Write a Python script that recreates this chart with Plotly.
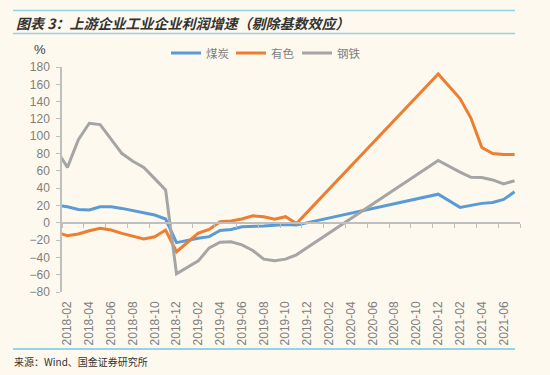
import plotly.graph_objects as go

months = ([f"2018-{m:02d}" for m in range(1, 13)] + [f"2019-{m:02d}" for m in range(1, 13)]
          + [f"2020-{m:02d}" for m in range(1, 13)] + [f"2021-{m:02d}" for m in range(1, 8)])

coal = [20, 18.5, 15.4, 14.7, 18.5, 18.5, 16.6, 13.9, 10.8, 8.9, 4.3, -23,
        None, -18, -16, -9, -7.7, -4.6, -4.5, -3.8, -2.8, -2, -2.7, None,
        None, None, None, None, None, None, None, None, None, None, None, 33,
        None, 17.8, 20, 22.4, 23.5, 27, 35.8]
nonferrous = [-11, -15, -13, -9.2, -6.5, -8.4, -12.3, -15.3, -18.8, -16.2, -8.4, -33.5,
              None, -12, -7.7, 1.2, 2, 4.3, 8, 7, 4, 7, -0.8, None,
              None, None, None, None, None, None, None, None, None, None, None, 172,
              None, 143.6, 121, 87, 80, 79, 79]
steel = [84, 64, 96, 115, 113.5, 97, 80, 71, 64, 51, 38, -59,
         None, -44, -29, -22.5, -22, -25.5, -32, -42, -44, -42, -37, None,
         None, None, None, None, None, None, None, None, None, None, None, 72,
         None, 58.5, 52.5, 52.3, 49.5, 45, 48.5]

series = [("煤炭", coal, "#5B9BD5"), ("有色", nonferrous, "#ED7D31"), ("钢铁", steel, "#A5A5A5")]

# geometry (pixels)
W, H = 550, 375
L, R, T, B = 62, 30, 67, 83
PW, PH = W - L - R, H - T - B


def px(x):
    return (x - L) / PW


def py(y):
    return (H - B - y) / PH


xi = list(range(len(months)))
tick_idx = [i for i, m in enumerate(months) if m >= "2018-02" and int(m[5:]) % 2 == 0]

legend_ids = ["legend", "legend2", "legend3"]
legend_x = [166, 231, 297]

fig = go.Figure()
for (name, vals, col), lid in zip(series, legend_ids):
    fig.add_trace(go.Scatter(x=xi, y=vals, name=name, mode="lines", connectgaps=True,
                             line=dict(color=col, width=3), legend=lid))
# helper trace for the axis at y=0
fig.add_trace(go.Scatter(x=[None], y=[None], xaxis="x2", showlegend=False, hoverinfo="skip"))

axis_col = "#BFBFBF"
tick_font = dict(family="Liberation Sans, Arial, sans-serif", size=12, color="#7F7F7F")
xr = [0.5, len(months) - 0.5]
yr = [-80, 180]

legend_style = dict(orientation="h", xanchor="left", y=py(53), yanchor="middle",
                    font=dict(family="Noto Sans CJK SC", size=11.5, color="#7F7F7F"),
                    bgcolor="rgba(0,0,0,0)", itemwidth=30)

fig.update_layout(
    width=W, height=H,
    margin=dict(l=L, r=R, t=T, b=B, autoexpand=False),
    paper_bgcolor="#FDF9EE", plot_bgcolor="#FDF9EE",
    showlegend=True,
    legend=dict(x=px(legend_x[0]), **legend_style),
    legend2=dict(x=px(legend_x[1]), **legend_style),
    legend3=dict(x=px(legend_x[2]), **legend_style),
    xaxis=dict(range=xr, tickmode="array", tickvals=tick_idx,
               ticktext=[months[i] for i in tick_idx], tickangle=-90,
               ticks="", showline=False, showgrid=False, zeroline=False, automargin=False,
               tickfont=tick_font, ticklabelstandoff=6),
    xaxis2=dict(range=xr, overlaying="x", anchor="free", position=(0 - yr[0]) / (yr[1] - yr[0]),
                side="bottom", showline=True, linecolor=axis_col, linewidth=1.5,
                tickmode="linear", tick0=0.5, dtick=2, ticks="outside", ticklen=4,
                tickcolor=axis_col, tickwidth=1, showticklabels=False, showgrid=False,
                zeroline=False, automargin=False),
    yaxis=dict(range=yr, dtick=20, tick0=0, showline=True, linecolor=axis_col, linewidth=1.5,
               ticks="outside", ticklen=4, tickcolor=axis_col, showgrid=False, zeroline=False,
               tickfont=tick_font, ticklabelstandoff=4, automargin=False),
)

line_col = "#95D3EA"
fig.add_shape(type="line", xref="paper", yref="paper", x0=px(13), x1=px(515), y0=py(10.5), y1=py(10.5),
              line=dict(color=line_col, width=1.5))
fig.add_shape(type="line", xref="paper", yref="paper", x0=px(13), x1=px(515), y0=py(33.5), y1=py(33.5),
              line=dict(color=line_col, width=1.5))
fig.add_shape(type="line", xref="paper", yref="paper", x0=px(13), x1=px(515), y0=py(349), y1=py(349),
              line=dict(color=line_col, width=2))

fig.add_annotation(text="<b><i>图表 3：上游企业工业企业利润增速（剔除基数效应）</i></b>",
                   xref="paper", yref="paper", x=px(14), y=py(23), xanchor="left", yanchor="middle",
                   showarrow=False, font=dict(family="Noto Sans CJK SC", size=14, color="#333333"))
fig.add_annotation(text="%", xref="paper", yref="paper", x=px(40), y=py(50), xanchor="center",
                   yanchor="middle", showarrow=False,
                   font=dict(family="Liberation Sans, Arial", size=13, color="#404040"))
fig.add_annotation(text="来源：Wind、国金证券研究所", xref="paper", yref="paper", x=px(12), y=py(361),
                   xanchor="left", yanchor="middle", showarrow=False,
                   font=dict(family="Noto Sans CJK SC", size=10, color="#333333"))

fig.write_html("out.html", config={"displayModeBar": False},
               post_script="document.body.style.margin='0';")
